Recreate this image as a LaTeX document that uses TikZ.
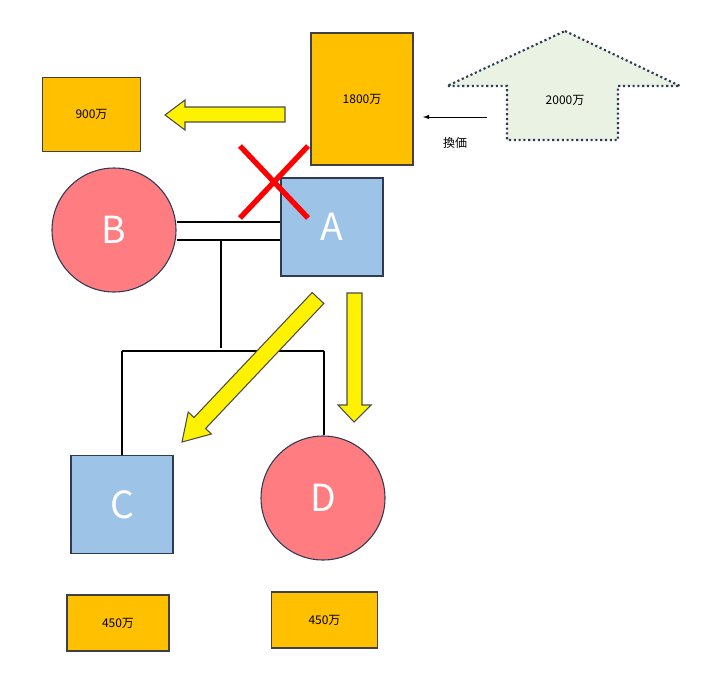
\documentclass[tikz,border=0pt]{standalone}
\usepackage{fontspec}
\setmainfont{Noto Sans CJK JP}
\begin{document}
\begin{tikzpicture}[x=0.75pt,y=-0.75pt,
  money/.style={draw=black!75,line width=0.8pt,fill=cOr,font=\small},
  person/.style={draw=cNavy,line width=0.8pt,text=white,font=\fontsize{28}{30}\selectfont},
  yarrow/.style={draw=black!70,line width=0.8pt,fill=yellow},
  rel/.style={line width=0.8pt}]
\definecolor{cOr}{HTML}{FFC000}
\definecolor{cBlue}{HTML}{9DC3E6}
\definecolor{cPink}{HTML}{FF7C80}
\definecolor{cNavy}{HTML}{2F3B55}
\definecolor{cGreen}{HTML}{EAF2E3}
\useasboundingbox (0,0) rectangle (720,678);
% money boxes
\node[money,minimum width=73pt,minimum height=56pt] (m900) at (91.5,114.5) {900万};
\node[money,minimum width=76.5pt,minimum height=99pt] (m1800) at (362,99) {1800万};
\node[money,minimum width=76.5pt,minimum height=42pt] (mc) at (118,623) {450万};
\node[money,minimum width=79pt,minimum height=42pt] (md) at (324.5,620) {450万};
% house arrow
\draw[cNavy,line width=1.6pt,dotted,fill=cGreen] (565,31) -- (680,86) -- (618,86) -- (618,140) -- (507,140) -- (507,86) -- (447,86) -- cycle;
\node[font=\small] (m2000) at (565,100) {2000万};
\coordinate (ks) at (487,117);
\coordinate (ke) at (423,117);
\draw[-latex,line width=0.6pt] (ks) -- (ke);
\node[font=\small] (kanka) at (455,143) {換価};
% persons
\node[person,rectangle,fill=cBlue,minimum width=76.5pt,minimum height=73.5pt] (A) at (332,227) {A};
\node[person,circle,fill=cPink,minimum size=93pt,inner sep=0pt] (B) at (114,230) {B};
\node[person,rectangle,fill=cBlue,minimum width=76.5pt,minimum height=73pt] (C) at (122,504.5) {C};
\node[person,circle,fill=cPink,minimum size=93pt,inner sep=0pt] (D) at (323,498) {D};
% relations
\draw[rel] (B.east |- 0,222) -- (A.west |- 0,222);
\draw[rel] (B.east |- 0,240) -- (A.west |- 0,240);
\coordinate (j1) at (221,240);
\coordinate (j2) at (221,348);
\coordinate (hl) at (122,351);
\coordinate (hr) at (324,351);
\draw[rel] (j1) -- (j2);
\draw[rel] (hl) -- (hr);
\draw[rel] (hl) -- (C.north -| hl);
\draw[rel] (hr) -- (D.north -| hr);
% red X
\draw[red,line width=4pt] (240,146) -- (308,218);
\draw[red,line width=4pt] (240,218) -- (308,146);
% yellow arrows
\draw[yarrow] (285,107) -- (185,107) -- (185,100) -- (165,115) -- (185,130) -- (185,122) -- (285,122) -- cycle;
\draw[yarrow] (347,293) -- (347,405) -- (338,405) -- (354,422) -- (371,405) -- (362,405) -- (362,293) -- cycle;
\draw[yarrow] (312.2,292.5) -- (194.0,417.5) -- (188.2,412.0) -- (182,442) -- (211.4,434.0) -- (205.6,428.5) -- (323.8,303.5) -- cycle;
\end{tikzpicture}
\end{document}
